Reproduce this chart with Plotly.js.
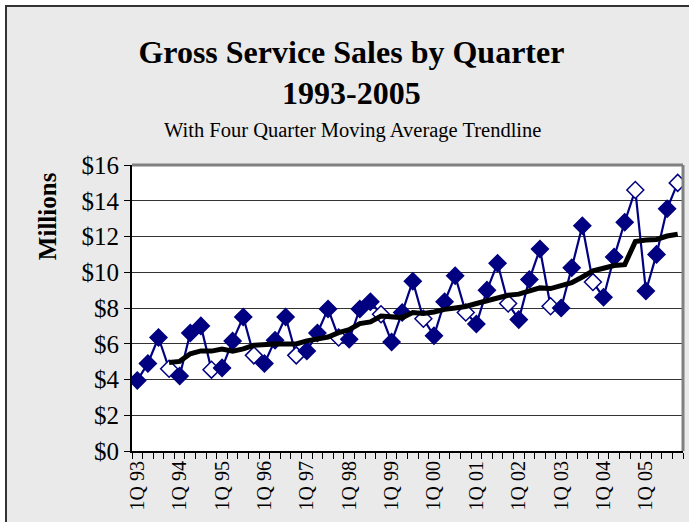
<!DOCTYPE html>
<html>
<head>
<meta charset="utf-8">
<script src="https://cdn.plot.ly/plotly-3.0.1.min.js"></script>
<style>
  html, body { margin: 0; padding: 0; background: #ffffff; overflow: hidden; }
  #frame { position: absolute; left: 5px; top: 5px; width: 700px; height: 540px;
           border-left: 2px solid #333; border-top: 2px solid #333; background: #eaeaea; }
  #chart { position: absolute; left: 0; top: 0; width: 682px; height: 515px; }
</style>
</head>
<body>
<div id="frame"><div id="chart"></div></div>
<script>
// Quarter categories 1Q 93 .. 4Q 05
const years = ['93','94','95','96','97','98','99','00','01','02','03','04','05'];
const quarters = ['1Q','2Q','3Q','4Q'];
const categories = [];
years.forEach(y => quarters.forEach(q => categories.push(q + ' ' + y)));

// Gross service sales, $ millions, per quarter
const sales = [
  3.95, 4.9, 6.35, 4.6,
  4.2, 6.6, 7.0, 4.55,
  4.65, 6.15, 7.5, 5.35,
  4.9, 6.2, 7.5, 5.35,
  5.6, 6.6, 7.95, 6.35,
  6.25, 7.95, 8.35, 7.65,
  6.1, 7.75, 9.5, 7.4,
  6.45, 8.35, 9.8, 7.75,
  7.1, 9.0, 10.5, 8.25,
  7.35, 9.6, 11.3, 8.1,
  8.0, 10.25, 12.6, 9.45,
  8.6, 10.85, 12.8, 14.6,
  8.95, 11.0, 13.55, 15.0
];

// Tick labels shown on the x axis (first quarter of each year)
const tickLabels = years.map(y => '1Q ' + y);
const yTicks = [0, 2, 4, 6, 8, 10, 12, 14, 16];

// Four-quarter moving average trendline (as defined by the chart)
const maX = [], maY = [];
for (let i = 3; i < sales.length; i++) {
  maX.push(categories[i]);
  maY.push((sales[i] + sales[i-1] + sales[i-2] + sales[i-3]) / 4);
}

const navy = '#000080';
const fillColors = categories.map(c => c.startsWith('4Q') ? '#ffffff' : navy);

const serif = 'Liberation Serif, Times New Roman, serif';

const traces = [
  {
    x: categories, y: sales, type: 'scatter', mode: 'lines+markers',
    line: { color: navy, width: 2.2 },
    marker: { symbol: 'diamond', size: 13, color: fillColors, line: { color: navy, width: 1.5 } },
    hoverinfo: 'x+y'
  },
  {
    x: maX, y: maY, type: 'scatter', mode: 'lines',
    line: { color: '#000000', width: 5 },
    hoverinfo: 'skip'
  }
];

const layout = {
  width: 682, height: 515,
  margin: { l: 125, r: 6, t: 158, b: 71 },
  paper_bgcolor: '#eaeaea', plot_bgcolor: '#ffffff',
  showlegend: false,
  font: { family: serif, color: '#000000', size: 20 },
  title: {
    text: '<b>Gross Service Sales by Quarter<br>1993-2005</b>',
    font: { family: serif, size: 32, color: '#000' },
    x: 0.505, xref: 'container', xanchor: 'center',
    y: 0.892, yref: 'container', yanchor: 'top'
  },
  annotations: [
    { text: 'With Four Quarter Moving Average Trendline', xref: 'paper', yref: 'paper',
      x: 0.5, xanchor: 'center', y: 1.122, yanchor: 'middle', showarrow: false,
      xshift: -55, font: { family: serif, size: 20.5, color: '#000' } },
    { text: '<b>Millions</b>', xref: 'paper', yref: 'paper', textangle: -90,
      x: -0.152, xanchor: 'center', y: 0.822, yanchor: 'middle', showarrow: false,
      font: { family: serif, size: 25, color: '#000' } }
  ],
  xaxis: {
    type: 'category', categoryorder: 'array', categoryarray: categories,
    tickmode: 'array', tickvals: categories,
    ticktext: categories.map(c => tickLabels.includes(c) ? c : ''),
    tickson: 'boundaries', ticks: 'outside', ticklen: 6, tickwidth: 1, tickcolor: '#000',
    tickangle: -90, tickfont: { family: serif, size: 20, color: '#000' },
    showgrid: false, showline: true, linecolor: '#000', linewidth: 2,
    range: [-0.5, categories.length - 0.5], zeroline: false, fixedrange: true
  },
  yaxis: {
    range: [0, 16], tickmode: 'array', tickvals: yTicks,
    ticktext: yTicks.map(v => '$' + v),
    ticks: 'outside', ticklen: 6, tickwidth: 1, tickcolor: '#000',
    tickfont: { family: serif, size: 25, color: '#000' },
    showgrid: true, gridcolor: '#333333', gridwidth: 1,
    showline: true, linecolor: '#000', linewidth: 2, zeroline: false, fixedrange: true
  },
  shapes: [
    { type: 'line', xref: 'paper', yref: 'paper', x0: 0, x1: 1, y0: 1, y1: 1,
      line: { color: '#808080', width: 3 } },
    { type: 'line', xref: 'paper', yref: 'paper', x0: 1, x1: 1, y0: 0, y1: 1,
      line: { color: '#808080', width: 3 } }
  ]
};

Plotly.newPlot('chart', traces, layout, { displayModeBar: false, staticPlot: true });
</script>
</body>
</html>
